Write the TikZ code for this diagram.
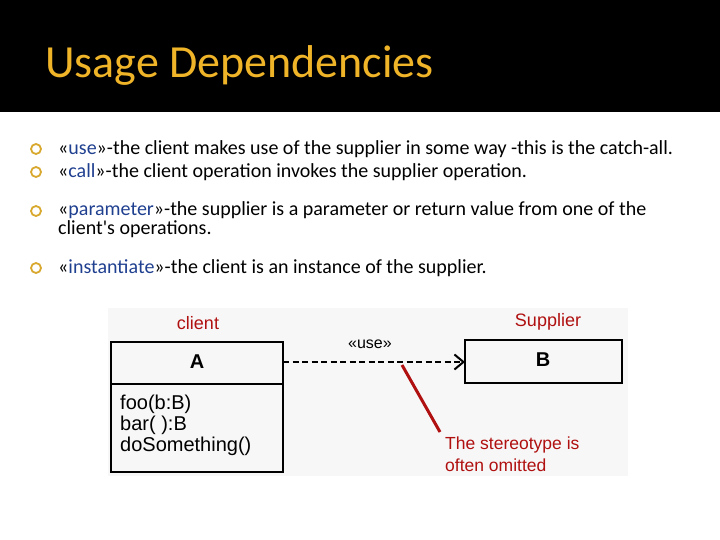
\documentclass[tikz,border=0pt]{standalone}
\usepackage{fontspec}
\setmainfont{Carlito}
\newfontfamily\arial{Liberation Sans}
\usetikzlibrary{arrows.meta}
\definecolor{ttl}{HTML}{F0B429}
\definecolor{bul}{HTML}{D9A82E}
\definecolor{kw}{HTML}{1F3F8F}
\definecolor{rd}{HTML}{B01010}
\begin{document}
\begin{tikzpicture}[x=1pt,y=-1pt,
  bt/.style={anchor=west,font=\fontsize{20}{20}\selectfont,align=left,inner sep=0},
  bu/.style={draw=bul,line width=1.8pt,circle,minimum size=10pt,inner sep=0},
  lbl/.style={font=\arial\fontsize{18}{20}\selectfont,text=rd,inner sep=0},
  cls/.style={draw,line width=2pt}]
\useasboundingbox (0,0) rectangle (720,540);
\fill[black] (0,0) rectangle (720,112);
\node[anchor=base west,text=ttl,font=\fontsize{46}{48}\selectfont,inner sep=0] (title) at (45,78) {Usage Dependencies};
\node[bu] (b1) at (36,149) {};
\node[bt] (t1) at (58,149) {«\textcolor{kw}{use}»-the client makes use of the supplier in some way -this is the catch-all.};
\node[bu] (b2) at (36,172) {};
\node[bt] (t2) at (58,172) {«\textcolor{kw}{call}»-the client operation invokes the supplier operation.};
\node[bu] (b3) at (36,211) {};
\node[bt,anchor=north west] (t3) at (58,201) {«\textcolor{kw}{parameter}»-the supplier is a parameter or return value from one of the\\[-1pt]client{\addfontfeatures{Mapping=}'}s operations.};
\node[bu] (b4) at (36,268) {};
\node[bt] (t4) at (58,268) {«\textcolor{kw}{instantiate}»-the client is an instance of the supplier.};
\fill[black!3] (108,308) rectangle (628,476);
\draw[cls] (111,342) rectangle (283,472);
\draw[cls] (111,384) -- (283,384);
\node[font=\arial\fontsize{20}{20}\selectfont\bfseries] (A) at (197,362) {A};
\node[anchor=north west,align=left,font=\arial\fontsize{20}{21}\selectfont,inner sep=0] (ops) at (120,395) {foo(b:B)\\bar( ):B\\doSomething()};
\draw[cls] (465,340) rectangle (622,383);
\node[font=\arial\fontsize{20}{20}\selectfont\bfseries] (B) at (543,360) {B};
\coordinate (ae) at (283,362);
\coordinate (be) at (465,362);
\draw[line width=2pt,dash pattern=on 6pt off 3.5pt,-{Straight Barb[length=9pt,width=15pt,line width=2pt]}] (ae) -- (be);
\node[font=\arial\fontsize{16}{18}\selectfont] (use) at (370,344) {«use»};
\node[lbl] (cl) at (198,323) {client};
\node[lbl] (sup) at (548,322) {Supplier};
\node[lbl,anchor=north west,align=left,font=\arial\fontsize{17.5}{22}\selectfont] (st) at (445,437) {The stereotype is\\often omitted};
\coordinate (p1) at (402,365);
\coordinate (p2) at (440,432);
\draw[rd,line width=3pt] (p1) -- (p2);
\end{tikzpicture}
\end{document}
